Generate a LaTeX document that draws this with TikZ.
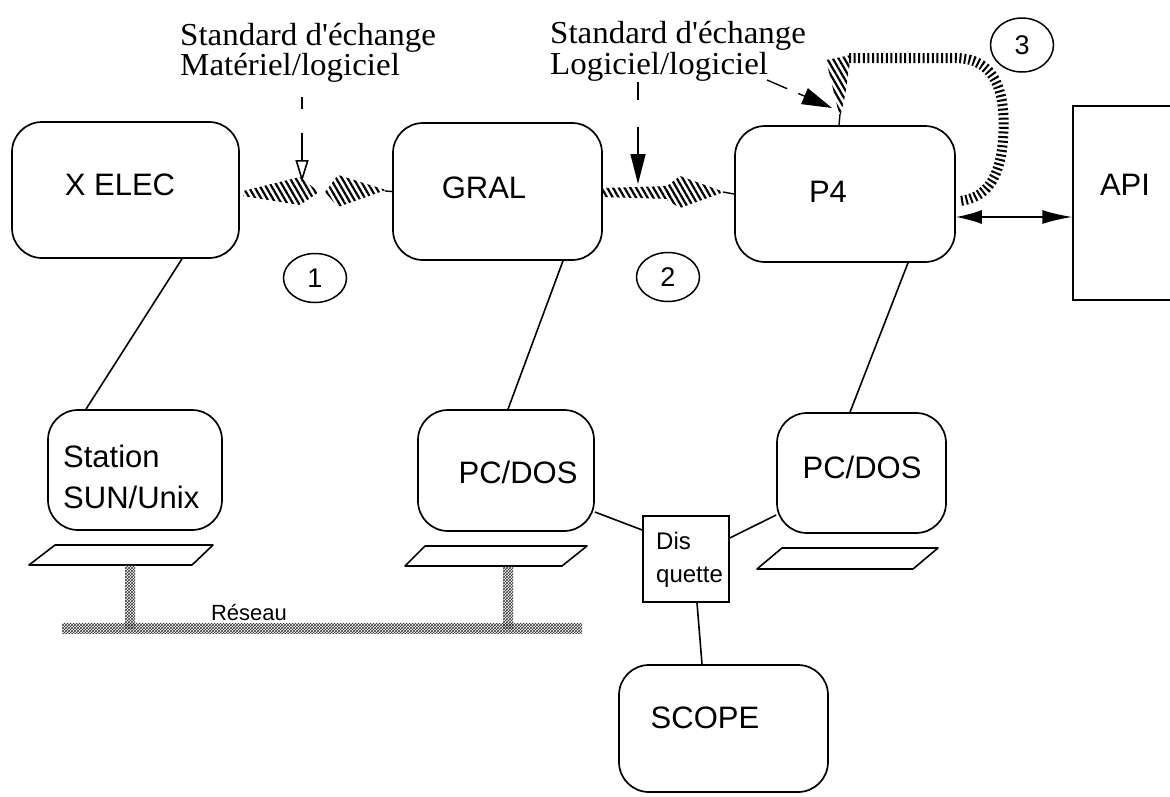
\documentclass[tikz,border=0pt]{standalone}
\usepackage{fontspec}
\setmainfont{Liberation Serif}
\newfontfamily\lblfont{Liberation Serif}[FakeStretch=1.03]
\newfontfamily\hvfont{Liberation Sans}
\usetikzlibrary{shapes.geometric,arrows.meta,patterns,patterns.meta,calc}
\tikzset{
  box/.style={draw, line width=1.7pt, rounded corners=30pt, inner sep=0pt},
  sqbox/.style={draw, line width=1.5pt, inner sep=0pt},
  txt/.style={font=\hvfont\fontsize{31}{41}\selectfont, inner sep=0pt},
  small/.style={font=\hvfont\fontsize{24}{33}\selectfont, inner sep=0pt},
  lbl/.style={font=\lblfont\fontsize{32}{32}\selectfont, inner sep=0pt, anchor=base west},
  numc/.style={draw, ellipse, line width=1.5pt, minimum width=63pt, minimum height=49pt, inner sep=0pt, font=\hvfont\fontsize{27}{27}\selectfont},
  hatch/.style={pattern={Lines[angle=-60,distance=5pt,line width=2.2pt]}},
  band/.style={line width=10pt, dash pattern=on 2pt off 2.6pt},
  conn/.style={line width=1.6pt},
  net/.style={pattern=crosshatch, pattern color=black!80},
  kbd/.style={draw, line width=1.6pt, line join=round},
  dasharr/.style={line width=1.4pt}
}
\begin{document}
\begin{tikzpicture}[x=1pt,y=-1pt]
\useasboundingbox (0,0) rectangle (1170,796);
\clip (0,0) rectangle (1170,796);

% boxes
\node[box, minimum width=227pt, minimum height=136pt] (xelec) at (125.5,190) {};
\node[box, minimum width=209pt, minimum height=137pt] (gral) at (497.5,191.5) {};
\node[box, minimum width=220pt, minimum height=136pt] (p4) at (845,194) {};
\node[sqbox, minimum width=140pt, minimum height=194pt] (api) at (1143,203) {};
\node[box, minimum width=174pt, minimum height=120pt] (station) at (135,470) {};
\node[box, minimum width=176pt, minimum height=121pt] (pc1) at (506,470.5) {};
\node[box, minimum width=169pt, minimum height=120pt] (pc2) at (861.5,473) {};
\node[sqbox, minimum width=86pt, minimum height=86pt] (disk) at (686,559) {};
\node[box, minimum width=209pt, minimum height=127pt] (scope) at (723.5,728.5) {};

% texts
\node[txt] (xelecT) at (120,185) {X ELEC};
\node[txt] (gralT) at (484,188) {GRAL};
\node[txt] (p4T) at (828,192) {P4};
\node[txt] (apiT) at (1125,185) {API};
\node[txt, anchor=west, align=left] (stationT) at (63,477) {Station\\SUN/Unix};
\node[txt] (pc1T) at (518,472) {PC/DOS};
\node[txt] (pc2T) at (862,467) {PC/DOS};
\node[txt] (scopeT) at (705,718) {SCOPE};
\node[small, anchor=west, align=left] (diskT) at (656,560) {Dis\\quette};
\node[font=\hvfont\fontsize{22}{22}\selectfont, inner sep=0pt] (reseau) at (249,612) {Réseau};

% standard labels
\node[lbl] (l1a) at (180,45) {Standard d'échange};
\node[lbl] (l1b) at (180,75) {Matériel/logiciel};
\node[lbl] (l2a) at (550,43) {Standard d'échange};
\node[lbl] (l2b) at (550,74) {Logiciel/logiciel};

% numbered circles
\node[numc] (c1) at (315,278) {1};
\node[numc] (c2) at (668,277) {2};
\node[numc, minimum height=54pt] (c3) at (1022,45) {3};

% plain connectors
\draw[conn] ($(xelec.south)+(56.5,0)$) -- ($(station.north)+(-49,0)$);
\draw[conn] ($(gral.south)+(65.5,0)$) -- ($(pc1.north)+(2,0)$);
\draw[conn] ($(p4.south)+(63,0)$) -- ($(pc2.north)+(-11.5,0)$);
\draw[conn] ($(pc1.east)+(0,41.5)$) -- ($(disk.west)+(0,-29)$);
\draw[conn] ($(pc2.west)+(0,42)$) -- ($(disk.east)+(0,-21)$);
\draw[conn] ($(disk.south)+(11,0)$) -- ($(scope.north)+(-21.5,0)$);
\draw[conn, {Latex[length=26pt,width=14pt]}-{Latex[length=30pt,width=14pt]}]
  ($(p4.east)+(0,23)$) -- ($(api.west)+(0,14)$);

% keyboards
\draw[kbd] (55,545) -- (213,545) -- (192,565) -- (29,565) -- cycle;
\draw[kbd] (425,546) -- (587,546) -- (562,566) -- (405,566) -- cycle;
\draw[kbd] (782,548) -- (938,548) -- (913,569) -- (757,569) -- cycle;

% network
\fill[net] (125,565) rectangle (135,628);
\fill[net] (503,566) rectangle (513,628);
\fill[net] (62,623) rectangle (582,633);

% hatched exchange 1 (XELEC -> GRAL)
\fill[hatch] (243,191) -- (300,177) -- (319,192) -- (300,205) -- (243,196) -- cycle;
\fill[hatch] (325,192) -- (338,175) -- (386,190) -- (338,207) -- cycle;
\draw[line width=1.4pt] (385,191) -- (gral.west);

% hatched exchange 2 (GRAL -> P4)
\fill[hatch] (602,188) -- (670,186) -- (670,199) -- (602,197) -- cycle;
\fill[hatch] (667,186) -- (680,176) -- (724,192) -- (680,208) -- (667,200) -- cycle;
\draw[line width=1.4pt] (723,192) -- (p4.west);

% hatched loop 3 (P4 -> P4)
\draw[line width=1.4pt] ($(p4.north)+(-6,0)$) -- (840,114);
\fill[hatch] (826,60) -- (851,55) -- (845,96) -- (840,118) -- cycle;
\draw[band] (849,58) -- (955,58) .. controls (1000,58) and (1006,100) .. (1003,140)
  .. controls (1000,180) and (985,198) .. (960,201);

% dashed pointer arrows
\coordinate (a1s) at (302,97);
\coordinate (a1e) at (302,182);
\draw[dasharr, dash pattern=on 12pt off 24pt on 40pt, -{Triangle[open,length=22pt,width=13pt,line width=1.6pt]}] (a1s) -- (a1e);
\coordinate (a2s) at (638,82);
\coordinate (a2e) at (638,184);
\draw[dasharr, dash pattern=on 18pt off 27pt on 40pt, -{Triangle[length=30pt,width=15pt]}] (a2s) -- (a2e);
\coordinate (a3s) at (767,80);
\coordinate (a3e) at (832,108);
\draw[dasharr, dash pattern=on 22pt off 12pt on 40pt, -{Triangle[length=30pt,width=17pt]}] (a3s) -- (a3e);
\end{tikzpicture}
\end{document}
